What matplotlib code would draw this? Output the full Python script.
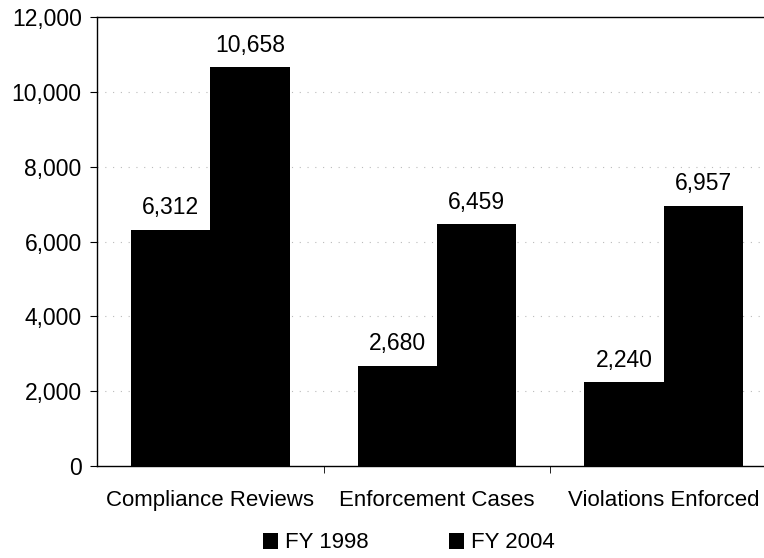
import numpy as np
import matplotlib.pyplot as plt
from matplotlib.ticker import FuncFormatter

categories = ['Compliance Reviews', 'Enforcement Cases', 'Violations Enforced']
fy1998 = [6312, 2680, 2240]
fy2004 = [10658, 6459, 6957]
series_names = ['FY 1998', 'FY 2004']

plt.rcParams['font.family'] = ['Liberation Sans', 'DejaVu Sans']

fig = plt.figure(figsize=(7.64, 5.58), dpi=100)
# plot area runs a bit past the right edge, as in the scanned original
ax = fig.add_axes([97 / 764, 1 - 466 / 558, 680 / 764, 449 / 558])

x = np.arange(len(categories))
w = 0.35
b1 = ax.bar(x - w / 2, fy1998, w, color='black', label=series_names[0])
b2 = ax.bar(x + w / 2, fy2004, w, color='black', label=series_names[1])

for bars in (b1, b2):
    for r in bars:
        ax.text(r.get_x() + r.get_width() / 2, r.get_height() + 280,
                f'{int(r.get_height()):,}', ha='center', va='bottom', fontsize=16.5)

ax.set_xlim(-0.5, len(categories) - 0.5)
ax.set_ylim(0, 12000)
ax.set_yticks(range(0, 12001, 2000))
ax.yaxis.set_major_formatter(FuncFormatter(lambda v, p: f'{int(v):,}'))
ax.set_xticks(x)
ax.set_xticklabels(categories, fontsize=16)
ax.set_xticks(np.arange(len(categories)) + 0.5, minor=True)
ax.tick_params(axis='x', which='major', length=0, pad=17)
ax.tick_params(axis='x', which='minor', length=5, direction='out')
ax.tick_params(axis='y', length=5, direction='out', labelsize=16.5, pad=6)

for v in range(2000, 12000, 2000):
    ax.axhline(v, color='#bbbbbb', lw=0.8, ls=(0, (1, 6)), zorder=0)

for s in ('left', 'bottom', 'top'):
    ax.spines[s].set_linewidth(1.0)
ax.spines['right'].set_visible(False)

fig.legend(handles=[b1, b2], labels=series_names, loc='center',
           bbox_to_anchor=(0.535, 1 - 543 / 558), ncol=2, frameon=False,
           fontsize=16, handlelength=0.7, handleheight=0.7, handletextpad=0.3,
           columnspacing=3.6)

fig.savefig('out.png', dpi=100)
